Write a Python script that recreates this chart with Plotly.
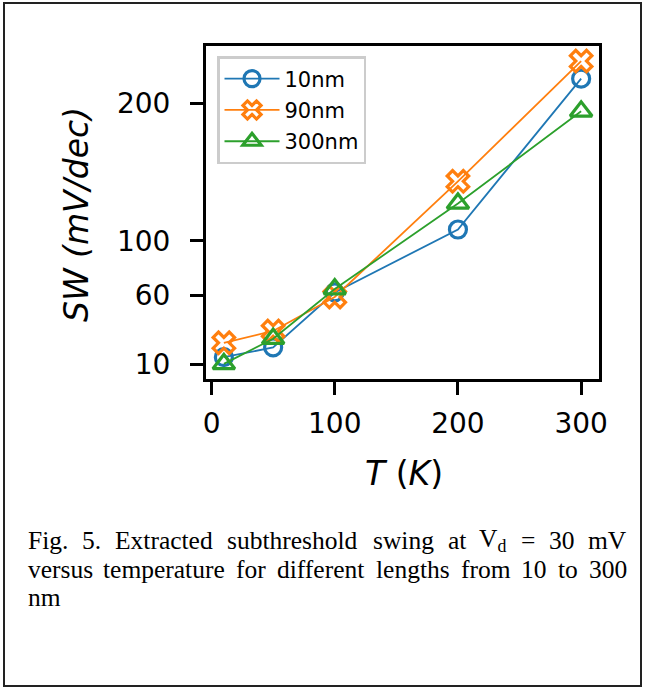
import plotly.graph_objects as go

# ---- data ----
temps = [10, 50, 100, 200, 300]
sw_10nm = [15.1, 22.2, 62.3, 108.2, 218.2]
sw_90nm = [25.6, 34.2, 59.0, 143.3, 231.0]
sw_300nm = [10.2, 28.6, 64.8, 127.2, 194.4]
series_names = ["10nm", "90nm", "300nm"]
x_ticks = [0, 100, 200, 300]
y_ticks = [10, 60, 100, 200]

caption_line1 = ["Fig.", "5.", "Extracted", "subthreshold", "swing", "at",
                 "V<sub>d</sub>", "=", "30", "mV"]
caption_line2 = ["versus", "temperature", "for", "different", "lengths",
                 "from", "10", "to", "300"]
caption_line3 = ["nm"]

# ---- layout geometry (pixels) ----
W, H = 645, 688
L, R, T, B = 206, 599, 46, 379  # plot area


def px(x):
    return (x - L) / (R - L)


def py(y):
    return (B - y) / (B - T)


colors = ["#1f77b4", "#ff7f0e", "#2ca02c"]
symbols = ["circle-open", "x-open", "triangle-up-open"]
sizes = [17, 19, 19]

fig = go.Figure()
for name, ys, c, s, sz in zip(series_names, [sw_10nm, sw_90nm, sw_300nm],
                              colors, symbols, sizes):
    fig.add_trace(go.Scatter(
        x=temps, y=ys, name=name, mode="lines+markers", legendgroup=name,
        line=dict(color=c, width=1.8),
        marker=dict(symbol=s, size=sz, color=c, line=dict(color=c, width=3.2)),
    ))

axis_common = dict(
    showline=True, linecolor="black", linewidth=3, mirror=True,
    ticks="outside", ticklen=13, tickwidth=3, tickcolor="black",
    showgrid=False, zeroline=False,
    tickfont=dict(family="DejaVu Sans", size=28, color="black"),
)

fig.update_layout(
    width=W, height=H,
    margin=dict(l=L, r=W - R, t=T, b=H - B, autoexpand=False),
    paper_bgcolor="white", plot_bgcolor="white",
    xaxis=dict(range=[-4.5, 314.5], tickvals=x_ticks, ticklabelstandoff=4,
               **axis_common),
    yaxis=dict(range=[-0.8, 242], tickvals=y_ticks, ticklabelstandoff=14,
               **axis_common),
    legend=dict(x=px(217), y=py(56), xanchor="left", yanchor="top",
                bgcolor="white", bordercolor="#cccccc", borderwidth=2.5,
                itemwidth=55, tracegroupgap=1, traceorder="grouped",
                font=dict(family="DejaVu Sans", size=21, color="black")),
    showlegend=True,
)

annotations = []
# axis titles
annotations.append(dict(
    text="<i>SW (mV/dec)</i>", x=px(76), y=py(215), xref="paper", yref="paper",
    textangle=-90, showarrow=False, xanchor="center", yanchor="middle",
    font=dict(family="DejaVu Sans", size=33, color="black")))
annotations.append(dict(
    text="<i>T</i> (<i>K</i>)", x=px(404), y=py(474), xref="paper", yref="paper",
    showarrow=False, xanchor="center", yanchor="middle",
    font=dict(family="DejaVu Sans", size=33, color="black")))

# caption (justified: words placed individually)
line1_x = [28, 83, 115.5, 227.5, 373, 448, 479, 521.5, 549, 588]
line2_x = [28, 103, 236, 277, 376, 461, 521.5, 558, 589]
line3_x = [28]
cap_font = dict(family="Liberation Serif", size=25.5, color="black")
for words, xs, yc in [(caption_line1, line1_x, 540),
                      (caption_line2, line2_x, 569),
                      (caption_line3, line3_x, 597)]:
    for w, xx in zip(words, xs):
        annotations.append(dict(
            text=w, x=px(xx), y=py(yc), xref="paper", yref="paper",
            showarrow=False, xanchor="left", yanchor="middle",
            font=cap_font, xshift=-2.5))

fig.update_layout(annotations=annotations)

# outer frame
fig.add_shape(type="rect", xref="paper", yref="paper",
              x0=px(4), x1=px(641), y0=py(686), y1=py(3),
              line=dict(color="#222222", width=2))

fig.write_html("out.html")
